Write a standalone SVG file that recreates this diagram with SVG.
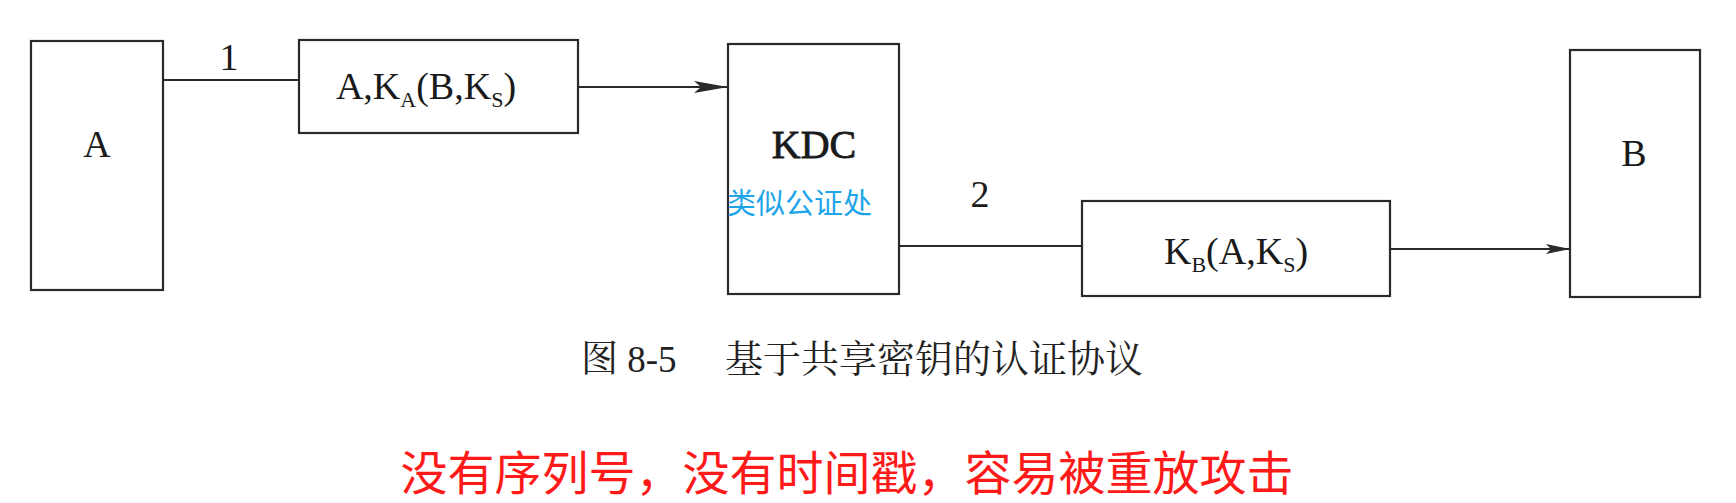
<svg xmlns="http://www.w3.org/2000/svg" width="1736" height="503" viewBox="0 0 1736 503">
<style>
.box{fill:#fff;stroke:#2a2a2a;stroke-width:2.2}
.ln{stroke:#2a2a2a;stroke-width:2.2;fill:none}
.t{font-family:"Liberation Serif","Noto Sans CJK SC",serif;fill:#1a1a1a;font-size:38px;text-anchor:middle}
.sub{font-size:22px}
</style>
<defs>
<marker id="ah" markerWidth="34" markerHeight="12" refX="34" refY="6" orient="auto" markerUnits="userSpaceOnUse">
<path d="M0,0 L34,6 L0,12 L7,6 Z" fill="#2a2a2a"/>
</marker>
<marker id="ah2" markerWidth="24" markerHeight="10" refX="24" refY="5" orient="auto" markerUnits="userSpaceOnUse">
<path d="M0,0 L24,5 L0,10 L5,5 Z" fill="#2a2a2a"/>
</marker>
</defs>
<rect width="1736" height="503" fill="#fff"/>
<g id="connectors">
<line class="ln" x1="163" y1="80" x2="299" y2="80"/>
<line class="ln" x1="578" y1="87" x2="728" y2="87" marker-end="url(#ah)"/>
<line class="ln" x1="899" y1="246" x2="1082" y2="246"/>
<line class="ln" x1="1390" y1="249" x2="1570" y2="249" marker-end="url(#ah2)"/>
<text class="t" x="229" y="70">1</text>
<text class="t" x="980" y="207">2</text>
</g>
<g id="nodeA">
<rect class="box" x="31" y="41" width="132" height="249"/>
<text class="t" x="97" y="157">A</text>
</g>
<g id="msg1">
<rect class="box" x="299" y="40" width="279" height="93"/>
<text class="t" x="426" y="99">A,K<tspan class="sub" dy="8">A</tspan><tspan dy="-8">(B,K</tspan><tspan class="sub" dy="8">S</tspan><tspan dy="-8">)</tspan></text>
</g>
<g id="nodeKDC">
<rect class="box" x="728" y="44" width="171" height="250"/>
<text class="t" x="814" y="158" style="stroke:#1a1a1a;stroke-width:0.8;font-size:40px">KDC</text>
<text x="727" y="214" style="font-family:'Noto Sans CJK SC',sans-serif;font-size:29px;fill:#1ea5e8">类似公证处</text>
</g>
<g id="msg2">
<rect class="box" x="1082" y="201" width="308" height="95"/>
<text class="t" x="1236" y="264">K<tspan class="sub" dy="8">B</tspan><tspan dy="-8">(A,K</tspan><tspan class="sub" dy="8">S</tspan><tspan dy="-8">)</tspan></text>
</g>
<g id="nodeB">
<rect class="box" x="1570" y="50" width="130" height="247"/>
<text class="t" x="1634" y="166">B</text>
</g>
<text x="581" y="372" style="font-family:'Liberation Serif','Noto Serif CJK SC','Noto Sans CJK SC',serif;font-size:37px;fill:#222">图 8-5<tspan x="725" style="font-size:38px">基于共享密钥的认证协议</tspan></text>
<text x="847" y="490" style="font-family:'Noto Sans CJK SC',sans-serif;font-size:47px;fill:#ff1a1a;text-anchor:middle">没有序列号，没有时间戳，容易被重放攻击</text>
</svg>
